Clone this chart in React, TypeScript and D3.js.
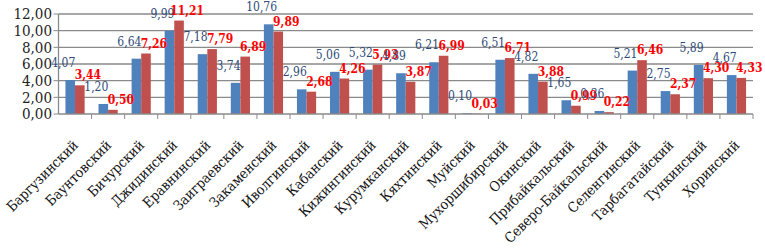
import React from "react";
import * as d3 from "d3";

const categories = [
  "Баргузинский", "Баунтовский", "Бичурский", "Джидинский", "Еравнинский",
  "Заиграевский", "Закаменский", "Иволгинский", "Кабанский", "Кижингинский",
  "Курумканский", "Кяхтинский", "Муйский", "Мухоршибирский", "Окинский",
  "Прибайкальский", "Северо-Байкальский", "Селенгинский", "Тарбагатайский",
  "Тункинский", "Хоринский",
];
const seriesBlue = [4.07, 1.2, 6.64, 9.99, 7.18, 3.74, 10.76, 2.96, 5.06, 5.32, 4.89, 6.21, 0.1, 6.51, 4.82, 1.65, 0.36, 5.21, 2.75, 5.89, 4.67];
const seriesRed = [3.44, 0.5, 7.26, 11.21, 7.79, 6.89, 9.89, 2.68, 4.26, 5.93, 3.87, 6.99, 0.03, 6.71, 3.88, 0.99, 0.22, 6.46, 2.37, 4.3, 4.33];
const yTicks = [0, 2, 4, 6, 8, 10, 12];

const W = 765, H = 248;
const left = 58.5, right = 753, top = 14, bottom = 114;
const fmt = (v: number) => v.toFixed(2).replace(".", ",");
const font = "DejaVu Serif";

export default function App() {
  const x = d3.scaleBand<string>().domain(categories).range([left, right]).paddingInner(0).paddingOuter(0);
  const bw = x.bandwidth();
  const inner = d3.scaleBand<string>().domain(["b", "r"]).range([bw * 0.21, bw * 0.79]).padding(0);
  const y = d3.scaleLinear().domain([0, 12]).range([bottom, top]);
  return (
    <svg width={W} height={H} fontFamily={font} style={{ position: "absolute", left: 0, top: 0, background: "#fff", fontStretch: "condensed" }}>
      {yTicks.map((t) => (
        <g key={t}>
          {t > 0 && <line x1={left} x2={right} y1={y(t)} y2={y(t)} stroke="#8a8a8a" strokeWidth={1.3} />}
          <line x1={left - 5} x2={left} y1={y(t)} y2={y(t)} stroke="#8a8a8a" strokeWidth={1} />
          <text x={52} y={y(t)} dy="0.36em" textAnchor="end" fontSize={15} fill="#222">{fmt(t)}</text>
        </g>
      ))}
      {categories.map((c, i) => {
        const x0 = x(c)!;
        const bx = x0 + inner("b")!;
        const rx = x0 + inner("r")!;
        const iw = inner.bandwidth();
        return (
          <g key={c}>
            <rect x={bx} y={y(seriesBlue[i])} width={iw} height={bottom - y(seriesBlue[i])} fill="#4F81BD" />
            <rect x={rx} y={y(seriesRed[i])} width={iw} height={bottom - y(seriesRed[i])} fill="#C0504D" />
          </g>
        );
      })}
      <line x1={left} x2={right} y1={bottom} y2={bottom} stroke="#8a8a8a" strokeWidth={1.3} />
      <line x1={left} x2={left} y1={top} y2={bottom} stroke="#8a8a8a" strokeWidth={1.3} />
      {categories.map((c, i) => (
        <line key={"t" + i} x1={x(c)! + bw} x2={x(c)! + bw} y1={bottom} y2={bottom + 5} stroke="#8a8a8a" strokeWidth={1} />
      ))}
      {categories.map((c, i) => {
        const x0 = x(c)!;
        const iw = inner.bandwidth();
        const bcx = x0 + inner("b")! + iw / 2;
        const rcx = x0 + inner("r")! + iw / 2;
        return (
          <g key={"l" + c}>
            <text x={bcx - 7} y={y(seriesBlue[i]) - 13} textAnchor="middle" fontSize={12} fill="#2E4B78">{fmt(seriesBlue[i])}</text>
            <text x={rcx + 8} y={y(seriesRed[i]) - 6} textAnchor="middle" fontSize={12} fontWeight="bold" fill="#FF0000">{fmt(seriesRed[i])}</text>
          </g>
        );
      })}
      {categories.map((c) => {
        const ax = x(c)! + bw / 2 + 4;
        const ay = 146;
        return (
          <text key={"c" + c} transform={`translate(${ax},${ay}) rotate(-45)`} textAnchor="end" fontSize={14} fill="#111">{c}</text>
        );
      })}
    </svg>
  );
}
